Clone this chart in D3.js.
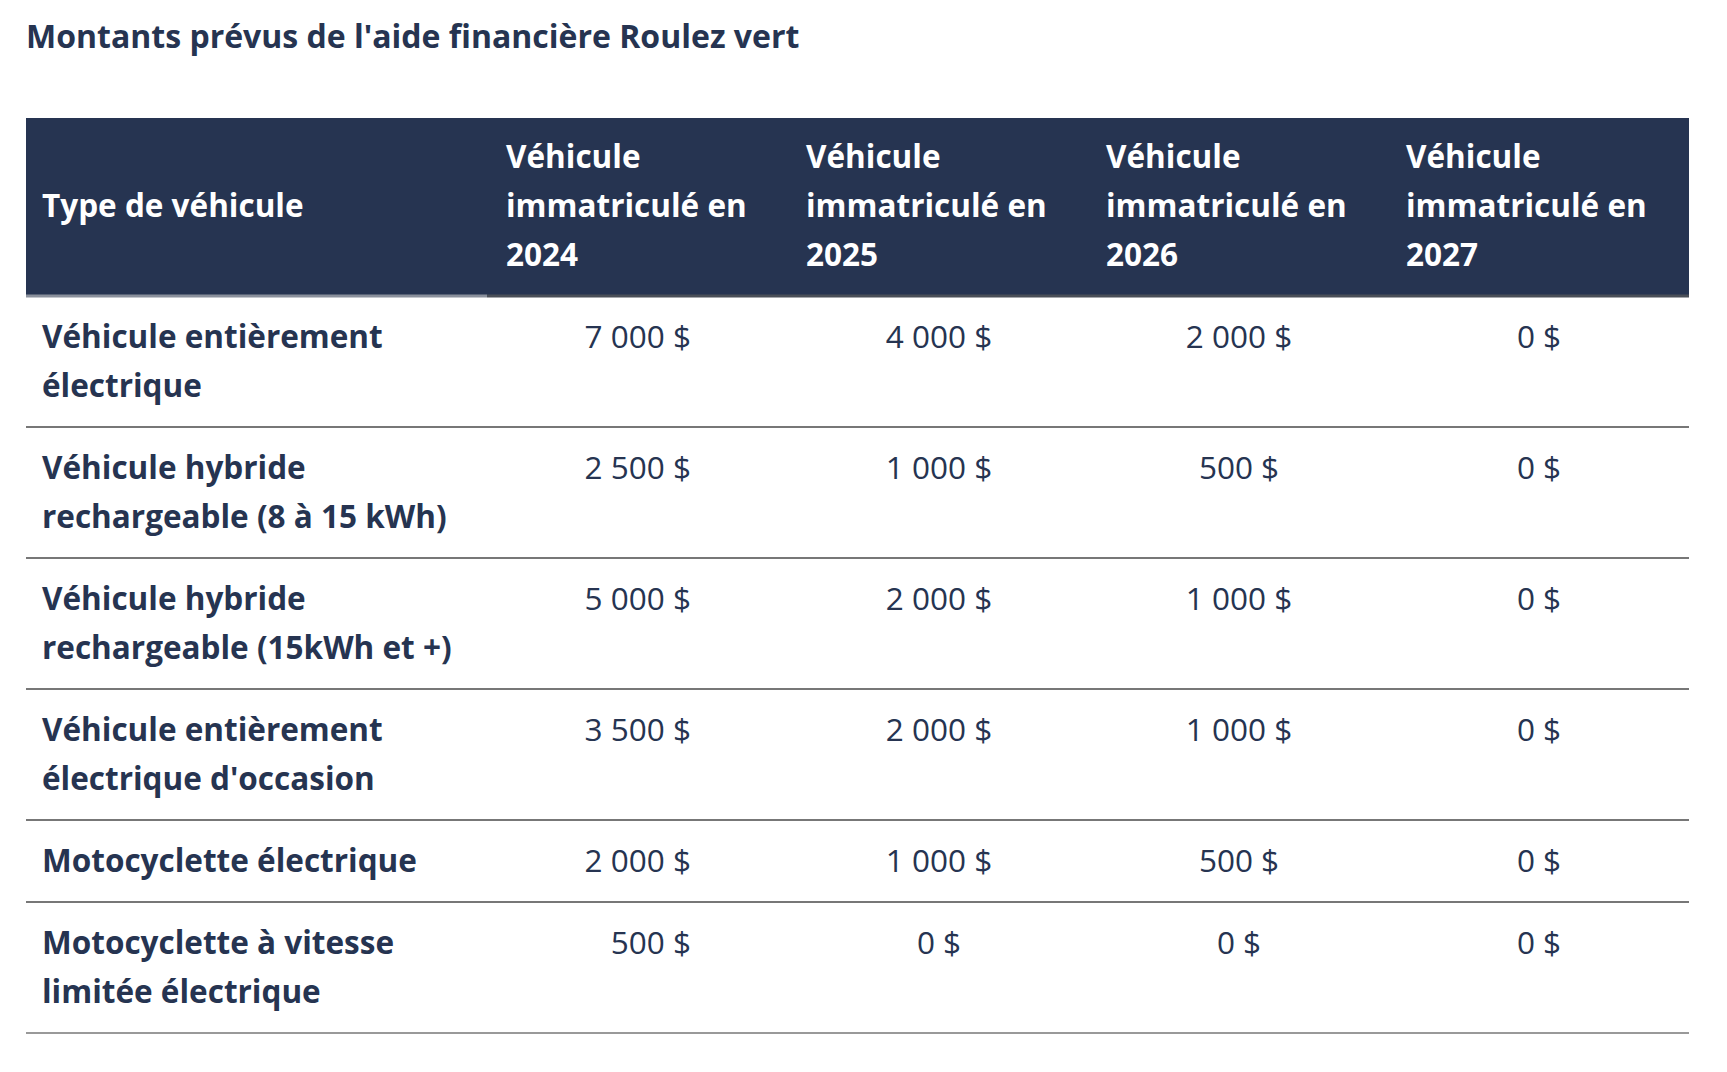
<!DOCTYPE html>
<html><head><meta charset="utf-8">
<script src="https://cdn.jsdelivr.net/npm/d3@7"></script>
<style>body{margin:0;background:#fff}svg{display:block;font-family:"Open Sans",sans-serif}</style>
</head><body><svg id="c" width="1727" height="1072"></svg>
<script>
const title = "Montants prévus de l'aide financière Roulez vert";
const firstHeader = "Type de véhicule";
const years = ["2024","2025","2026","2027"];
const categories = [
  ["Véhicule entièrement","électrique"],
  ["Véhicule hybride","rechargeable (8 à 15 kWh)"],
  ["Véhicule hybride","rechargeable (15kWh et +)"],
  ["Véhicule entièrement","électrique d'occasion"],
  ["Motocyclette électrique"],
  ["Motocyclette à vitesse","limitée électrique"]
];
const v2024 = [7000,2500,5000,3500,2000,500];
const v2025 = [4000,1000,2000,2000,1000,0];
const v2026 = [2000,500,1000,1000,500,0];
const v2027 = [0,0,0,0,0,0];
const series = [v2024,v2025,v2026,v2027];

const navy = "#263451";
const svg = d3.select("#c");
const fmt = v => d3.format(",")(v).replace(/,/g," ") + " $";
const L = 26, R = 1689, lh = 49;
const rowH = categories.map(c => c.length > 1 ? 131 : 82);
const rowTop = [296];
rowH.forEach((h,i)=>rowTop.push(rowTop[i]+h));

svg.append("text").attr("x",L).attr("y",48).attr("fill",navy)
  .attr("font-size",32).attr("font-weight",700).text(title);

svg.append("rect").attr("x",L).attr("y",118).attr("width",R-L).attr("height",178).attr("fill",navy);
svg.append("text").attr("x",42).attr("y",217).attr("fill","#fff").attr("font-size",31.5).attr("font-weight",700).text(firstHeader);
const colX = [506,806,1106,1406];
const valX = [691,939,1239,1539];
years.forEach((y,i)=>{
  ["Véhicule","immatriculé en",y].forEach((t,j)=>{
    svg.append("text").attr("x",colX[i]).attr("y",168+j*lh).attr("fill","#fff")
      .attr("font-size",31.5).attr("font-weight",700).text(t);
  });
});
svg.append("line").attr("x1",L).attr("x2",487).attr("y1",296).attr("y2",296).attr("stroke","#8a909c").attr("stroke-width",3);
svg.append("line").attr("x1",487).attr("x2",R).attr("y1",296).attr("y2",296).attr("stroke","#4a4f58").attr("stroke-width",3);

categories.forEach((c,r)=>{
  const top = rowTop[r];
  c.forEach((t,j)=>svg.append("text").attr("x",42).attr("y",top+52+j*lh)
    .attr("fill",navy).attr("font-size",31.5).attr("font-weight",700).text(t));
  series.forEach((s,k)=>{
    svg.append("text").attr("x",valX[k]).attr("y",top+52)
      .attr("text-anchor",k===0?"end":"middle").attr("fill",navy)
      .attr("font-size",31.5).attr("font-weight",400).text(fmt(s[r]));
  });
  svg.append("line").attr("x1",L).attr("x2",R).attr("y1",top+rowH[r]).attr("y2",top+rowH[r])
    .attr("stroke", r===categories.length-1?"#999":"#777").attr("stroke-width",2);
});
</script></body></html>
